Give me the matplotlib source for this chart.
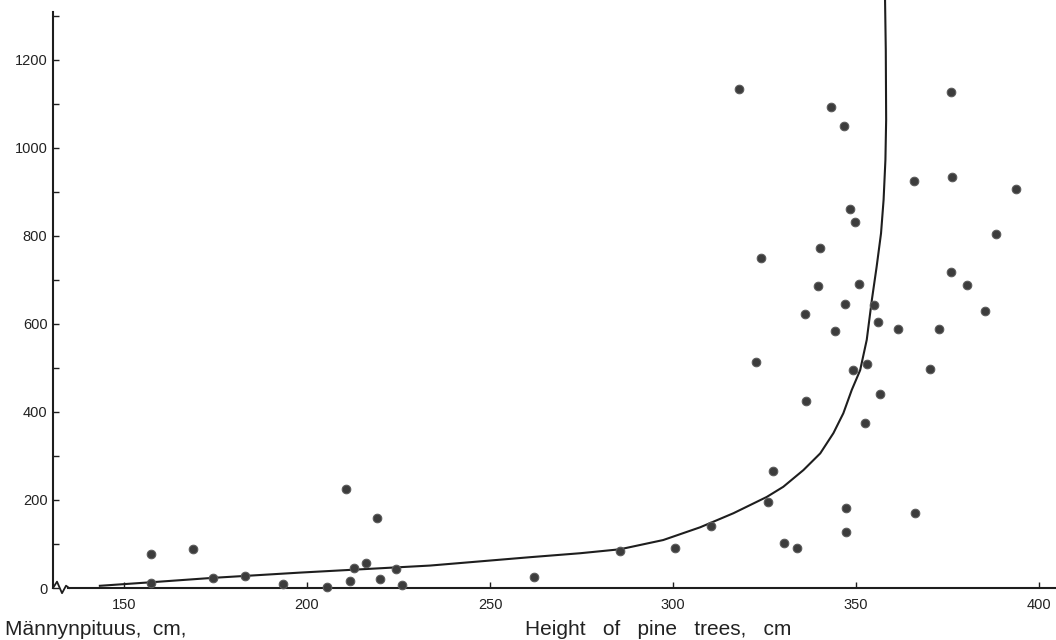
import matplotlib
matplotlib.use("Agg")
import matplotlib.pyplot as plt

# ---- data ----
pine_height = [157.3, 157.3, 168.8, 174.2, 183.0, 193.4, 205.5, 210.7, 211.6, 212.8,
               216.0, 219.2, 220.0, 224.2, 226.0, 261.9, 285.4, 300.5, 310.3, 325.8,
               327.4, 330.4, 333.8, 336.1, 346.9, 354.9, 355.9, 344.2, 361.4, 372.6,
               385.3, 322.6, 349.2, 353.0, 370.1, 336.3, 356.6, 352.3, 347.3, 366.0,
               347.1, 318.1, 343.1, 346.8, 375.9, 365.8, 376.2, 393.6, 348.4, 349.8,
               388.2, 340.0, 324.1, 375.9, 380.3, 339.6, 350.8]
value = [78, 11, 88, 22, 27, 8, 3, 224, 17, 45,
         57, 158, 20, 43, 7, 26, 83, 92, 142, 195,
         265, 102, 91, 623, 645, 643, 604, 585, 589, 589,
         629, 513, 496, 509, 498, 424, 441, 375, 181, 171,
         127, 1134, 1094, 1050, 1127, 926, 934, 906, 861, 832,
         804, 773, 750, 717, 688, 687, 690]

curve_x = [143.4, 157.3, 174.2, 198.1, 233.6, 260.9, 274.6, 285.5, 297.3, 307.4,
           316.5, 325.6, 330.1, 335.6, 340.2, 343.8, 346.5, 348.8, 351.1, 352.9,
           354.3, 355.6, 356.8, 357.5, 358.0, 358.2, 358.1, 357.9]
curve_y = [5, 13, 23, 35, 51, 70, 79, 88, 109, 138,
           170, 207, 230, 268, 306, 352, 397, 450, 495, 564,
           655, 730, 806, 882, 973, 1064, 1223, 1336]

x_ticks = [150, 200, 250, 300, 350, 400]
y_ticks = [0, 200, 400, 600, 800, 1000, 1200]
y_minor = [100, 300, 500, 700, 900, 1100, 1300]

label_fi = "Männynpituus,  cm,"
label_en = "Height   of   pine   trees,   cm"

# ---- drawing ----
plt.rcParams['font.family'] = ['Liberation Sans', 'DejaVu Sans']
ink = '#1e1e1e'

fig = plt.figure(figsize=(10.56, 6.4), dpi=100)
fig.patch.set_facecolor('white')
ax = fig.add_axes([53 / 1056, 52 / 640, 1003 / 1056, 576 / 640])
ax.set_facecolor('white')

ax.scatter(pine_height, value, s=38, facecolor='#3c3c3c', edgecolor='#5c5c5c',
           linewidth=0.8, zorder=3, clip_on=False)
ax.plot(curve_x, curve_y, color=ink, lw=1.5, zorder=2, clip_on=False,
        solid_joinstyle='round')

ax.set_xlim(130.6, 404.6)
ax.set_ylim(0, 1309)

for s in ['top', 'right']:
    ax.spines[s].set_visible(False)
ax.spines['left'].set_color(ink)
ax.spines['left'].set_linewidth(1.5)
ax.spines['bottom'].set_color(ink)
ax.spines['bottom'].set_linewidth(1.5)
ax.spines['bottom'].set_bounds(134.7, 404.6)

ax.set_xticks(x_ticks)
ax.set_xticklabels([str(t) for t in x_ticks])
ax.set_yticks(y_ticks)
ax.set_yticklabels([str(t) for t in y_ticks])
ax.set_yticks(y_minor, minor=True)

ax.tick_params(axis='both', which='both', direction='in', color=ink,
               labelcolor='#222222', labelsize=10.5)
ax.tick_params(axis='y', which='both', length=4, width=1.0, pad=4)
ax.tick_params(axis='x', which='major', length=4, width=1.0, pad=7)

# axis-break zigzag at the origin
zx = [0.0, 0.004, 0.009, 0.013, 0.016]
zy = [0.0, 0.011, -0.009, 0.004, 0.0]
ax.plot(zx, zy, transform=ax.transAxes, color=ink, lw=1.3, clip_on=False)

fig.text(5 / 1056, 5 / 640, label_fi, fontsize=15, color='#222222',
         ha='left', va='baseline')
fig.text(525 / 1056, 5 / 640, label_en, fontsize=15, color='#222222',
         ha='left', va='baseline')

fig.savefig('out.png', dpi=100, facecolor='white')
